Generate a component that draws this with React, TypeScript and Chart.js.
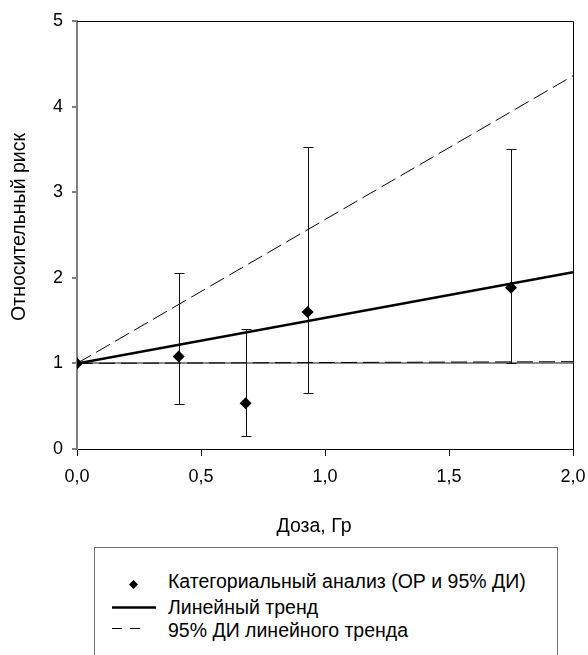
import React, { useEffect, useRef } from 'react';
import { Chart, registerables } from 'chart.js';

Chart.register(...registerables);

// ---- data ----
const pointDoses = [0, 0.41, 0.68, 0.93, 1.75];
const pointRR = [1, 1.08, 0.535, 1.6, 1.885];
const pointLow: (number | null)[] = [null, 0.53, 0.155, 0.66, 1.01];
const pointHigh: (number | null)[] = [null, 2.06, 1.4, 3.53, 3.51];

const trendDoses = [0, 2];
const trendRR = [1, 2.065];
const ciUpperRR = [1, 4.36];
const ciLowerRR = [1, 1.02];

const xTickValues = [0, 0.5, 1, 1.5, 2];
const yTickValues = [0, 1, 2, 3, 4, 5];

const xTitle = 'Доза, Гр';
const yTitle = 'Относительный риск';
const legendLabels = [
  'Категориальный анализ (ОР и 95% ДИ)',
  'Линейный тренд',
  '95% ДИ линейного тренда',
];

const FONT = '"Liberation Sans", Arial, Helvetica, sans-serif';

const errorBarsPlugin = {
  id: 'errorBars',
  beforeDatasetDraw(chart: any, args: any) {
    if (args.index !== 0) return;
    const { ctx, scales } = chart;
    const x = scales.x;
    const y = scales.y;
    ctx.save();
    ctx.strokeStyle = '#111';
    ctx.lineWidth = 1;
    pointDoses.forEach((d, i) => {
      const lo = pointLow[i];
      const hi = pointHigh[i];
      if (lo == null || hi == null) return;
      const px = Math.round(x.getPixelForValue(d)) + 0.5;
      const y1 = Math.round(y.getPixelForValue(lo)) + 0.5;
      const y2 = Math.round(y.getPixelForValue(hi)) + 0.5;
      ctx.beginPath();
      ctx.moveTo(px, y1);
      ctx.lineTo(px, y2);
      ctx.moveTo(px - 5, y1);
      ctx.lineTo(px + 5, y1);
      ctx.moveTo(px - 5, y2);
      ctx.lineTo(px + 5, y2);
      ctx.stroke();
    });
    ctx.restore();
  },
};

const framePlugin = {
  id: 'frame',
  beforeDatasetsDraw(chart: any) {
    const { ctx, chartArea } = chart;
    ctx.save();
    ctx.strokeStyle = '#000';
    ctx.lineWidth = 1;
    ctx.beginPath();
    ctx.moveTo(chartArea.left, Math.round(chartArea.top) + 0.5);
    ctx.lineTo(chartArea.right + 0.5, Math.round(chartArea.top) + 0.5);
    ctx.lineTo(Math.round(chartArea.right) + 0.5, chartArea.bottom);
    ctx.stroke();
    ctx.restore();
  },
  afterDraw(chart: any) {
    const { ctx, chartArea } = chart;
    ctx.save();
    ctx.fillStyle = '#000';
    ctx.font = `19.5px ${FONT}`;
    ctx.textAlign = 'center';
    ctx.textBaseline = 'middle';
    ctx.fillText(xTitle, (chartArea.left + chartArea.right) / 2 - 11, 527);
    ctx.translate(19.5, (chartArea.top + chartArea.bottom) / 2 - 8);
    ctx.rotate(-Math.PI / 2);
    ctx.fillText(yTitle, 0, 0);
    ctx.restore();
  },
};

export default function App() {
  const canvasRef = useRef<HTMLCanvasElement | null>(null);

  useEffect(() => {
    if (!canvasRef.current) return;
    const toXY = (xs: number[], ys: number[]) => xs.map((v, i) => ({ x: v, y: ys[i] }));
    const chart = new Chart(canvasRef.current, {
      type: 'scatter',
      data: {
        datasets: [
          {
            label: legendLabels[0],
            data: toXY(pointDoses, pointRR),
            pointStyle: 'rectRot',
            pointRadius: 6,
            backgroundColor: '#000',
            borderColor: '#000',
            borderWidth: 0,
            showLine: false,
          },
          {
            label: legendLabels[1],
            data: toXY(trendDoses, trendRR),
            showLine: true,
            borderColor: '#000',
            borderWidth: 2.5,
            pointRadius: 0,
          },
          {
            label: legendLabels[2],
            data: toXY(trendDoses, ciUpperRR),
            showLine: true,
            borderColor: '#000',
            borderWidth: 1,
            borderDash: [16, 6],
            pointRadius: 0,
          },
          {
            label: legendLabels[2] + ' (нижн.)',
            data: toXY(trendDoses, ciLowerRR),
            showLine: true,
            borderColor: '#000',
            borderWidth: 1,
            borderDash: [16, 6],
            pointRadius: 0,
          },
        ],
      },
      options: {
        responsive: false,
        animation: false,
        layout: { padding: { top: 21, right: 15, left: 0, bottom: 0 } },
        plugins: {
          legend: { display: false },
          tooltip: { enabled: false },
        },
        scales: {
          x: {
            type: 'linear',
            min: 0,
            max: 2,
            afterFit: (s: any) => {
              s.height = 96;
              s.paddingLeft = 0;
              s.paddingRight = 0;
            },
            afterBuildTicks: (s: any) => {
              s.ticks = xTickValues.map((v) => ({ value: v }));
            },
            ticks: {
              color: '#000',
              font: { family: FONT, size: 18 },
              padding: 10,
              maxRotation: 0,
              autoSkip: false,
              callback: (v: any) => Number(v).toFixed(1).replace('.', ','),
            },
            grid: {
              drawOnChartArea: false,
              tickLength: 7,
              color: '#000',
            },
            border: { color: '#000', width: 1 },
          },
          y: {
            type: 'linear',
            min: 0,
            max: 5,
            afterFit: (s: any) => {
              s.width = 77;
              s.paddingTop = 0;
              s.paddingBottom = 0;
            },
            afterBuildTicks: (s: any) => {
              s.ticks = yTickValues.map((v) => ({ value: v }));
            },
            ticks: {
              color: '#000',
              font: { family: FONT, size: 18 },
              padding: 9,
              callback: (v: any) => String(v),
            },
            grid: {
              drawOnChartArea: true,
              tickLength: 5,
              lineWidth: 2,
              color: (c: any) => (c.tick && c.tick.value === 1 ? '#8a8a8a' : 'rgba(0,0,0,0)'),
              tickColor: '#000',
              tickWidth: 1,
            },
            border: { color: '#808080', width: 2 },
          },
        },
      } as any,
      plugins: [errorBarsPlugin, framePlugin],
    });
    return () => chart.destroy();
  }, []);

  const rowTops = [21.5, 47.5, 70.5];
  return (
    <div style={{ position: 'absolute', left: 0, top: 0, width: 588, height: 655, overflow: 'hidden', background: '#fff' }}>
      <canvas ref={canvasRef} width={588} height={545} style={{ position: 'absolute', left: 0, top: 0 }} />
      <div
        style={{
          position: 'absolute',
          left: 94,
          top: 547,
          width: 464,
          height: 130,
          border: '1px solid #6f6f6f',
          boxSizing: 'border-box',
          fontFamily: FONT,
          fontSize: 19.5,
          color: '#000',
        }}
      >
        <svg width={100} height={110} style={{ position: 'absolute', left: 0, top: 0 }}>
          <polygon points="38.5,32 43,36.5 38.5,41 34,36.5" fill="#000" />
          <line x1={17} y1={59.5} x2={61} y2={59.5} stroke="#000" strokeWidth={2.5} />
          <line x1={17} y1={80.5} x2={47} y2={80.5} stroke="#000" strokeWidth={1} strokeDasharray="10 8" />
        </svg>
        {legendLabels.map((t, i) => (
          <div
            key={i}
            style={{ position: 'absolute', left: 73, top: rowTops[i], lineHeight: '22px', whiteSpace: 'nowrap' }}
          >
            {t}
          </div>
        ))}
      </div>
    </div>
  );
}
